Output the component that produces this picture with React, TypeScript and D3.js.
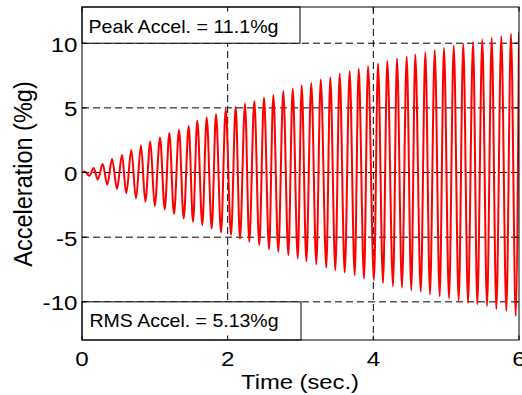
import React from "react";
import * as d3 from "d3";

// ---- data ----
const startTimes = [0, 0.04];
const startValues = [0, 0.08];

const peakTimes = [
  0.161, 0.284, 0.412, 0.549, 0.677, 0.81, 0.938, 1.071, 1.199, 1.332, 1.465,
  1.583, 1.712, 1.84, 1.973, 2.11, 2.238, 2.366, 2.499, 2.627, 2.764, 2.893,
  3.017, 3.148, 3.278, 3.409, 3.538, 3.675, 3.799, 3.927, 4.064, 4.192, 4.325,
  4.458, 4.576, 4.714, 4.843, 4.97, 5.104, 5.235, 5.369, 5.496, 5.625, 5.757,
  5.89, 6.0,
];
const peakValues = [
  0.35, 0.65, 1.05, 1.35, 1.75, 2.1, 2.4, 2.7, 3.05, 3.3, 3.6, 4.0, 4.25, 4.5,
  4.9, 5.08, 5.33, 5.54, 5.8, 6.0, 6.3, 6.5, 6.75, 6.93, 7.19, 7.37, 7.63, 7.84,
  8.02, 8.23, 8.43, 8.62, 8.8, 8.95, 9.12, 9.3, 9.46, 9.64, 9.82, 9.95, 10.1,
  10.28, 10.41, 10.54, 10.72, 10.85,
];

const troughTimes = [
  0.1, 0.216, 0.347, 0.481, 0.608, 0.741, 0.869, 0.998, 1.136, 1.263, 1.396,
  1.524, 1.652, 1.781, 1.909, 2.046, 2.169, 2.297, 2.434, 2.568, 2.695, 2.833,
  2.962, 3.08, 3.217, 3.354, 3.478, 3.607, 3.744, 3.872, 4.009, 4.133, 4.27,
  4.393, 4.521, 4.651, 4.778, 4.911, 5.039, 5.172, 5.3, 5.428, 5.561, 5.689,
  5.826, 5.955,
];
const troughValues = [
  -0.25, -0.55, -0.95, -1.25, -1.6, -2.0, -2.25, -2.6, -2.85, -3.2, -3.55, -3.8,
  -4.05, -4.33, -4.64, -4.82, -5.1, -5.36, -5.6, -5.93, -6.13, -6.39, -6.65,
  -6.86, -7.09, -7.35, -7.55, -7.74, -7.94, -8.2, -8.33, -8.54, -8.77, -8.9,
  -9.1, -9.22, -9.43, -9.56, -9.74, -9.95, -10.08, -10.2, -10.34, -10.57, -10.7,
  -11.1,
];

const xTicks = [0, 2, 4, 6];
const yTicks = [-10, -5, 0, 5, 10];
const xGrid = [2, 4];
const yGrid = [-10, -5, 0, 5, 10];
const peakLabel = "Peak Accel. = 11.1%g";
const rmsLabel = "RMS Accel. = 5.13%g";
const xTitle = "Time (sec.)";
const yTitle = "Acceleration (%g)";

// ---- layout ----
const W = 522;
const H = 395;
const L = 82;
const R = 519;
const T = 7;
const B = 340;
const FONT = "'Liberation Sans', Arial, Helvetica, sans-serif";

export default function App() {
  const x = d3.scaleLinear().domain([0, 6]).range([L, R]);
  const y = d3.scaleLinear().domain([-12.95, 12.8]).range([B, T]);

  const pts: [number, number][] = [];
  startTimes.forEach((t, i) => pts.push([t, startValues[i]]));
  peakTimes.forEach((t, i) => pts.push([t, peakValues[i]]));
  troughTimes.forEach((t, i) => pts.push([t, troughValues[i]]));
  pts.sort((a, b) => a[0] - b[0]);

  const line = d3
    .line<[number, number]>()
    .x((d) => x(d[0]))
    .y((d) => y(d[1]))
    .curve(d3.curveMonotoneX);

  const tickLen = 4.5;
  const sx = 1.15;

  return (
    <svg
      width={W}
      height={H}
      style={{ position: "absolute", left: 0, top: 0, background: "#fff" }}
      fontFamily={FONT}
    >
      <defs>
        <clipPath id="plotClip">
          <rect x={L} y={T} width={R - L} height={B - T} />
        </clipPath>
      </defs>
      <rect x={0} y={0} width={W} height={H} fill="#fff" />

      {/* grid */}
      {xGrid.map((v) => (
        <line
          key={"gx" + v}
          x1={x(v)}
          x2={x(v)}
          y1={T}
          y2={B}
          stroke="#000"
          strokeWidth={1}
          strokeDasharray="7,4"
        />
      ))}
      {yGrid.map((v) => (
        <line
          key={"gy" + v}
          x1={L}
          x2={R}
          y1={y(v)}
          y2={y(v)}
          stroke="#000"
          strokeWidth={1}
          strokeDasharray="7,4"
        />
      ))}

      {/* signal */}
      <path
        d={line(pts) || ""}
        fill="none"
        stroke="#ff0000"
        strokeWidth={2}
        strokeLinejoin="round"
        clipPath="url(#plotClip)"
      />

      {/* annotation boxes */}
      <rect
        x={L}
        y={T}
        width={300 - L}
        height={y(10) - T}
        fill="#fff"
        stroke="#000"
        strokeWidth={1}
      />
      <text
        x={88.5}
        y={32.5}
        fontSize={18.5}
        textLength={190}
        lengthAdjust="spacingAndGlyphs"
        fill="#000"
      >
        {peakLabel}
      </text>
      <rect
        x={L}
        y={y(-10)}
        width={301 - L}
        height={B - y(-10)}
        fill="#fff"
        stroke="#000"
        strokeWidth={1}
      />
      <text
        x={89.5}
        y={326.5}
        fontSize={18.5}
        textLength={189}
        lengthAdjust="spacingAndGlyphs"
        fill="#000"
      >
        {rmsLabel}
      </text>

      {/* axes frame */}
      <rect
        x={L}
        y={T}
        width={R - L}
        height={B - T}
        fill="none"
        stroke="#000"
        strokeWidth={1}
      />
      {xTicks.map((v) => (
        <g key={"xt" + v}>
          <line x1={x(v)} x2={x(v)} y1={B} y2={B - tickLen} stroke="#000" />
          <line x1={x(v)} x2={x(v)} y1={T} y2={T + tickLen} stroke="#000" />
          <g transform={`translate(${x(v)},366) scale(${sx},1)`}>
            <text textAnchor="middle" fontSize={21} fill="#000">
              {String(v)}
            </text>
          </g>
        </g>
      ))}
      {yTicks.map((v) => (
        <g key={"yt" + v}>
          <line x1={L} x2={L + tickLen} y1={y(v)} y2={y(v)} stroke="#000" />
          <line x1={R} x2={R - tickLen} y1={y(v)} y2={y(v)} stroke="#000" />
          <g transform={`translate(77.5,${y(v) + 8.5}) scale(${sx},1)`}>
            <text textAnchor="end" fontSize={21} fill="#000">
              {String(v)}
            </text>
          </g>
        </g>
      ))}

      {/* axis titles */}
      <text
        x={300}
        y={389}
        textAnchor="middle"
        fontSize={21}
        textLength={118}
        lengthAdjust="spacingAndGlyphs"
        fill="#000"
      >
        {xTitle}
      </text>
      <g transform={`translate(31.5,174) scale(1.09,1) rotate(-90)`}>
        <text textAnchor="middle" fontSize={23.5} fill="#000">
          {yTitle}
        </text>
      </g>
    </svg>
  );
}
